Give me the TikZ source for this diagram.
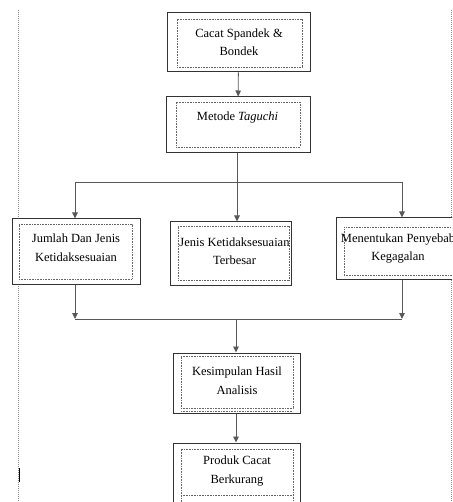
\documentclass[tikz,border=0pt]{standalone}
\usepackage{fontspec}
\setmainfont{Liberation Serif}
\usetikzlibrary{arrows.meta}
\begin{document}
\begin{tikzpicture}[x=1pt,y=1pt,
  outerbox/.style={draw=black!80, line width=1pt, fill=white, inner sep=0pt},
  innerbox/.style={draw=black!60, line width=0.6pt, dash pattern=on 0.8pt off 0.8pt, inner sep=0pt},
  txt/.style={align=center, inner sep=0pt, font=\fontsize{12.5}{18.5}\selectfont},
  conn/.style={draw=black!65, line width=0.9pt},
  arr/.style={conn, -{Triangle[width=5.5pt,length=6pt]}},
  margin/.style={draw=black!45, line width=0.8pt, dash pattern=on 1pt off 1pt}
]
\useasboundingbox (0,0) rectangle (452,-502);
\clip (0,0) rectangle (452,-502);
% page margin guides
\coordinate (mlt) at (18.5,-10);
\coordinate (mlb) at (18.5,-502);
\coordinate (mrt) at (451.2,-10);
\coordinate (mrb) at (451.2,-502);
\draw[margin] (mlt) -- (mlb);
\draw[margin] (mrt) -- (mrb);
\coordinate (cur1) at (19.5,-468);
\coordinate (cur2) at (19.5,-482);
\draw[line width=1.8pt] (cur1) -- (cur2);

% box 1
\node[outerbox, minimum width=143, minimum height=59] (b1) at (238.5,-42.5) {};
\node[innerbox, minimum width=125, minimum height=48] (b1i) at (239.5,-43) {};
\node[txt] (b1t) at (239,-42) {Cacat Spandek \&\\Bondek};

% box 2
\node[outerbox, minimum width=144, minimum height=56] (b2) at (238,-125) {};
\node[innerbox, minimum width=124, minimum height=45] (b2i) at (238,-124.5) {};
\node[txt, anchor=base] (b2t) at (237.5,-121) {Metode \textit{Taguchi}};

% box 3 (left)
\node[outerbox, minimum width=128, minimum height=65] (b3) at (76,-251.5) {};
\node[innerbox, minimum width=113, minimum height=55] (b3i) at (75.5,-251.5) {};
\node[txt] (b3t) at (76,-247.5) {Jumlah Dan Jenis\\Ketidaksesuaian};

% box 4 (middle)
\node[outerbox, minimum width=121, minimum height=63] (b4) at (230.5,-253.5) {};
\node[innerbox, minimum width=111, minimum height=54] (b4i) at (233.5,-253) {};
\node[txt] (b4t) at (234.5,-251) {Jenis Ketidaksesuaian\\Terbesar};

% box 5 (right)
\node[outerbox, minimum width=124, minimum height=61] (b5) at (398,-248.5) {};
\node[innerbox, minimum width=111, minimum height=48] (b5i) at (399.5,-251) {};
\node[txt] (b5t) at (398,-248.5) {Menentukan Penyebab\\Kegagalan};

% box 6
\node[outerbox, minimum width=127, minimum height=60] (b6) at (236.5,-383) {};
\node[innerbox, minimum width=112, minimum height=52] (b6i) at (237,-382) {};
\coordinate (b6x1) at (181,-411);
\coordinate (b6x2) at (293,-411);
\draw[innerbox] (b6x1) -- (b6x2);
\node[txt] (b6t) at (237,-380.5) {Kesimpulan Hasil\\Analisis};

% box 7
\node[outerbox, minimum width=127, minimum height=77] (b7) at (236.5,-481.5) {};
\node[innerbox, minimum width=112, minimum height=71] (b7i) at (237,-484.5) {};
\coordinate (b7x1) at (181,-495);
\coordinate (b7x2) at (293,-495);
\draw[innerbox] (b7x1) -- (b7x2);
\node[txt] (b7t) at (237,-471) {Produk Cacat\\Berkurang};

% connectors
\coordinate (j1) at (237,-182);
\coordinate (jl) at (75,-182);
\coordinate (jr) at (402,-182);
\draw[arr] (b1) -- (b2);
\draw[conn] (b2.south -| j1) -- (j1);
\draw[conn] (jl) -- (jr);
\draw[arr] (jl) -- (jl |- b3.north);
\draw[arr] (j1) -- (j1 |- b4.north);
\draw[arr] (jr) -- (jr |- b5.north);

\coordinate (kl) at (75,-319);
\coordinate (kr) at (402,-319);
\coordinate (k) at (236,-319);
\draw[conn] (kl) -- (kr);
\draw[arr] (kl |- b3.south) -- (kl);
\draw[arr] (kr |- b5.south) -- (kr);
\draw[arr] (k) -- (k |- b6.north);
\draw[arr] (b6.south -| k) -- (k |- b7.north);
\end{tikzpicture}
\end{document}
